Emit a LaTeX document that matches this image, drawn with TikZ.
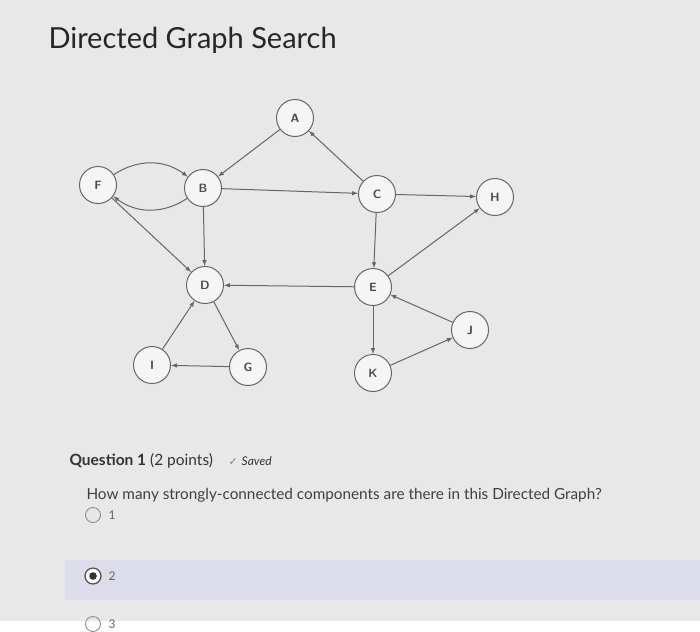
\documentclass[tikz,border=0pt]{standalone}
\usepackage{fontspec}
\setmainfont{Lato}
\newfontfamily\djv{DejaVu Sans}
\begin{document}
\begin{tikzpicture}[x=1pt,y=-1pt,
  vtx/.style={circle,draw=black!60,fill=white!92!gray,line width=1pt,minimum size=37pt,inner sep=0pt,font=\fontsize{12}{12}\selectfont\sffamily\bfseries,text=black!70},
  arr/.style={-latex,draw=black!60,line width=1pt}]
\fill[gray!18] (0,0) rectangle (700,621);
\fill[blue!25!gray!22] (65,560) rectangle (700,600);
\node[anchor=west,font=\fontsize{29}{30}\selectfont,text=black!85] (title) at (45,40) {Directed Graph Search};
\node[vtx] (A) at (295,118) {A};
\node[vtx] (F) at (98,185) {F};
\node[vtx] (B) at (203,188) {B};
\node[vtx] (C) at (377,194) {C};
\node[vtx] (H) at (495,197) {H};
\node[vtx] (D) at (205,285) {D};
\node[vtx] (E) at (373,287) {E};
\node[vtx] (J) at (470,330) {J};
\node[vtx] (I) at (152,365) {I};
\node[vtx] (G) at (248,367) {G};
\node[vtx] (K) at (373,373) {K};
\draw[arr] (A)--(B);
\draw[arr] (C)--(A);
\draw[arr] (F) to[bend left=35] (B);
\draw[arr] (B) to[bend left=35] (F);
\draw[arr] (B)--(C);
\draw[arr] (C)--(H);
\draw[arr] (B)--(D);
\draw[arr] (F)--(D);
\draw[arr] (C)--(E);
\draw[arr] (E)--(D);
\draw[arr] (E)--(H);
\draw[arr] (J)--(E);
\draw[arr] (E)--(K);
\draw[arr] (K)--(J);
\draw[arr] (I)--(D);
\draw[arr] (D)--(G);
\draw[arr] (G)--(I);
\node[anchor=west,font=\fontsize{15.5}{17}\selectfont,text=black!80] (q) at (66,461) {\textbf{Question 1} (2 points)\quad{\djv\fontsize{11}{11}\selectfont\color{black!50}✓} {\itshape\fontsize{12}{13}\selectfont Saved}};
\node[anchor=west,font=\fontsize{15.3}{17}\selectfont,text=black!75] (qt) at (83,495) {How many strongly-connected components are there in this Directed Graph?};
\draw[black!45,line width=0.9pt] (93,515) circle (7.5);
\node[anchor=west,font=\fontsize{12}{13}\selectfont,text=black!60] (o1) at (105,515) {1};
\draw[black!70,line width=1.2pt,fill=white] (93,576) circle (8);
\fill[black!80] (93,576) circle (3.8);
\node[anchor=west,font=\fontsize{12}{13}\selectfont,text=black!60] (o2) at (105,576) {2};
\draw[black!45,line width=0.9pt] (93,624) circle (7.5);
\node[anchor=west,font=\fontsize{12}{13}\selectfont,text=black!60] (o3) at (105,624) {3};
\useasboundingbox (0,0) rectangle (700,621);
\end{tikzpicture}
\end{document}
